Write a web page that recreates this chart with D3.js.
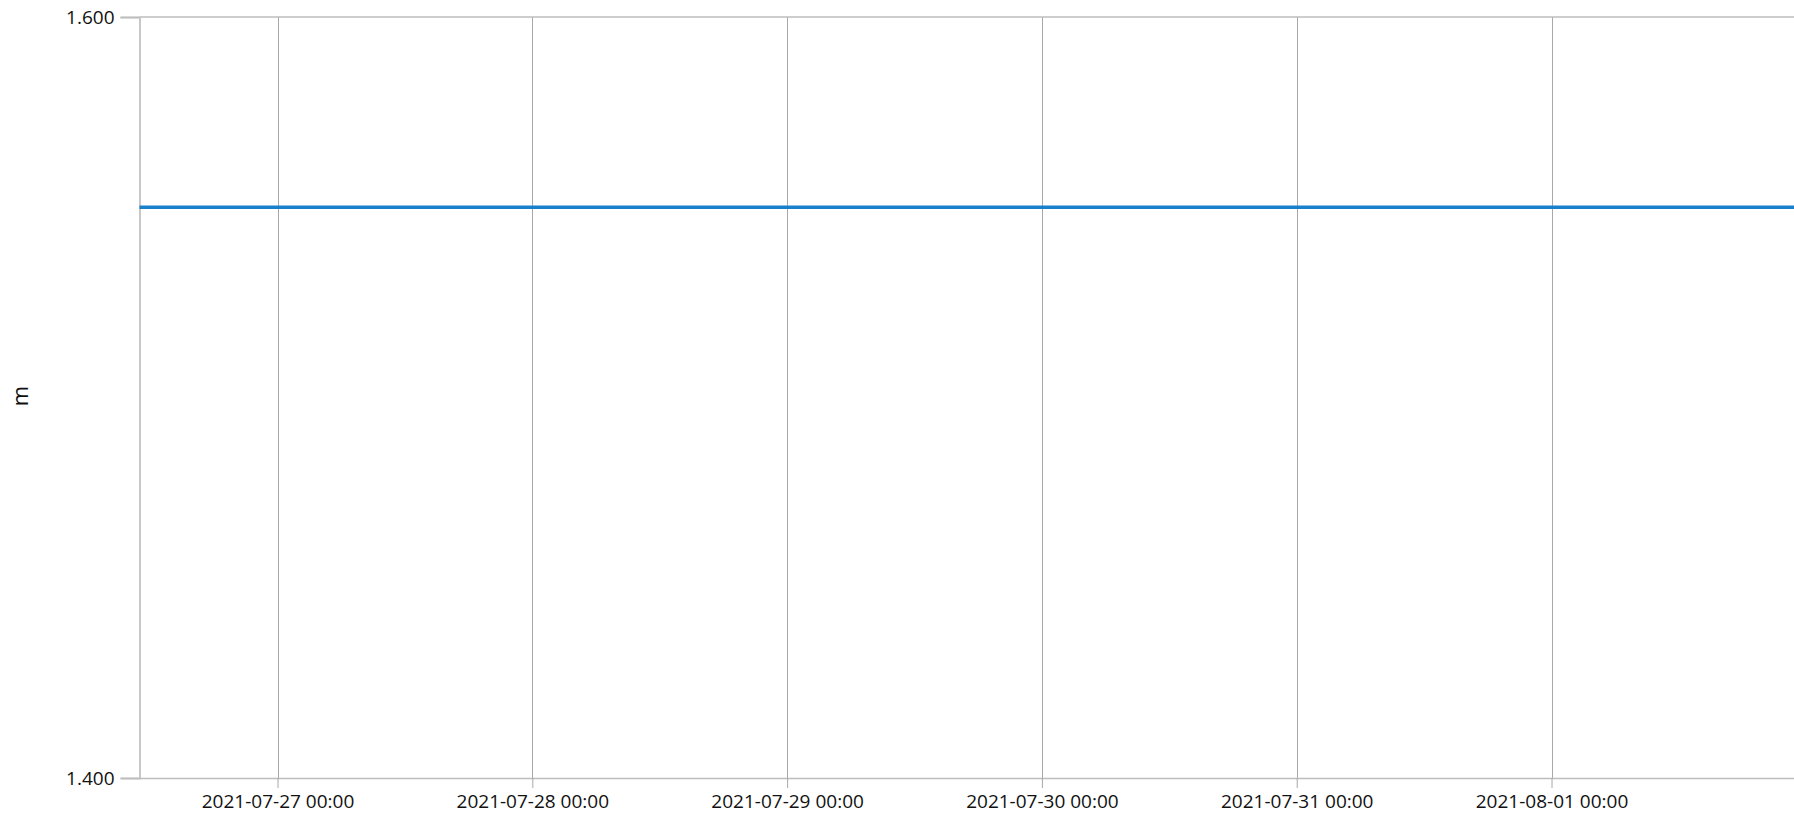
<!DOCTYPE html>
<html>
<head>
<meta charset="utf-8">
<script src="https://cdn.jsdelivr.net/npm/d3@7"></script>
<style>
  html, body { margin: 0; padding: 0; background: #ffffff; }
  svg { display: block; }
  text { font-family: "Open Sans", "Noto Sans", sans-serif; fill: #111111; }
</style>
</head>
<body>
<svg id="chart" width="1794" height="815"></svg>
<script>
// ---- data ----
const times = ["2021-07-26T11:00:00Z", "2021-07-27T00:00:00Z", "2021-07-28T00:00:00Z",
               "2021-07-29T00:00:00Z", "2021-07-30T00:00:00Z", "2021-07-31T00:00:00Z",
               "2021-08-01T00:00:00Z", "2021-08-02T00:00:00Z"];
const levels = [1.55, 1.55, 1.55, 1.55, 1.55, 1.55, 1.55, 1.55];
const xTickDates = ["2021-07-27T00:00:00Z", "2021-07-28T00:00:00Z", "2021-07-29T00:00:00Z",
                    "2021-07-30T00:00:00Z", "2021-07-31T00:00:00Z", "2021-08-01T00:00:00Z"];
const yTicks = [1.4, 1.6];
const yDomain = [1.4, 1.6];
const yLabel = "m";

(function () {
// ---- layout ----
const svg = d3.select("#chart");
const mLeft = 139.5, mTop = 17, mBottom = 778;
const pxPerDay = 254.8;
const t0 = new Date(times[0]);
const tEnd = new Date(times[times.length - 1]);
const mRight = mLeft + (tEnd - t0) / 86400000 * pxPerDay;

const x = d3.scaleUtc().domain([t0, tEnd]).range([mLeft, mRight]);
const y = d3.scaleLinear().domain(yDomain).range([mBottom, mTop]);

const data = times.map((t, i) => ({ t: new Date(t), v: levels[i] }));
const tickDates = xTickDates.map(d => new Date(d));
const fmt = d3.utcFormat("%Y-%m-%d %H:%M");

// vertical gridlines
svg.append("g").selectAll("line").data(tickDates).join("line")
  .attr("x1", d => Math.round(x(d)) + 0.5).attr("x2", d => Math.round(x(d)) + 0.5)
  .attr("y1", mTop).attr("y2", mBottom)
  .attr("stroke", "#a8a8a8").attr("stroke-width", 1);

// top gridline
svg.append("line")
  .attr("x1", mLeft).attr("x2", 1794).attr("y1", y(1.6)).attr("y2", y(1.6))
  .attr("stroke", "#bdbdbd").attr("stroke-width", 1.5);

// y axis
const yAxis = d3.axisLeft(y).tickValues(yTicks).tickFormat(d3.format(".3f"))
  .tickSize(19).tickPadding(6);
const gy = svg.append("g").attr("transform", `translate(${mLeft},0)`).call(yAxis);
gy.select(".domain").attr("stroke", "#c8c8c8").attr("stroke-width", 2);
gy.selectAll(".tick line").attr("stroke", "#bdbdbd").attr("stroke-width", 1.5);
gy.selectAll(".tick text").style("font-size", "19px").attr("fill", "#111111");

// x axis
const xAxis = d3.axisBottom(x).tickValues(tickDates).tickFormat(fmt)
  .tickSize(10).tickSizeOuter(0).tickPadding(7);
const gx = svg.append("g").attr("transform", `translate(0,${mBottom})`).call(xAxis);
gx.select(".domain").attr("stroke", "#bdbdbd").attr("stroke-width", 1.5)
  .attr("d", `M${mLeft},0.5H1794`);
gx.selectAll(".tick line").attr("stroke", "#a8a8a8");
gx.selectAll(".tick text").style("font-size", "19px").attr("fill", "#111111");

// y label
svg.append("text")
  .attr("transform", `translate(28,396) rotate(-90)`)
  .attr("text-anchor", "middle")
  .style("font-size", "22px")
  .text(yLabel);

// series line
svg.append("path").datum(data)
  .attr("fill", "none")
  .attr("stroke", "#1a80cc")
  .attr("stroke-width", 3.3)
  .attr("d", d3.line().x(d => x(d.t)).y(d => y(d.v)));
})();
</script>
</body>
</html>
